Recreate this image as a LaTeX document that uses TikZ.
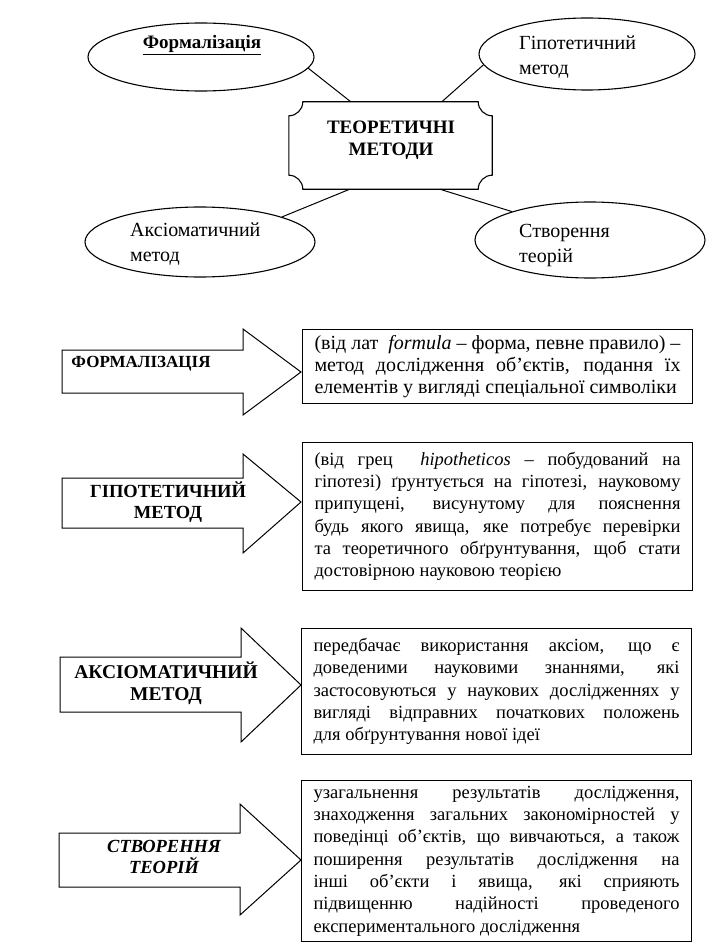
\documentclass[tikz,border=0pt]{standalone}
\usepackage{fontspec}
\setmainfont{Liberation Serif}
\usepackage{tikz}
\usetikzlibrary{positioning,calc,shapes.geometric}
\tolerance=9999
\hbadness=10000
\tikzset{
  oval/.style={ellipse,draw,line width=1.1pt,inner sep=0pt},
  ovtxt/.style={font=\fontsize{20}{25}\selectfont,align=left,inner sep=0pt},
  link/.style={line width=1pt},
  plaque/.style={line width=1.1pt},
  bigarr/.style={line width=1pt,line join=miter},
  arrtxt/.style={align=center,inner sep=0pt},
  defbox/.style={draw,line width=1pt,anchor=north west,text width=366pt,inner xsep=12pt,
    inner ysep=0pt,align=justify,font=\fontsize{18.5}{22.3}\selectfont},
}
\begin{document}
\begin{tikzpicture}[x=1pt,y=-1pt]
  \useasboundingbox (0,0) rectangle (723,952);
  % top: the four methods round the central plaque
  \node[minimum width=203pt,minimum height=87pt,inner sep=0pt] (tm) at (390.5,145.5) {};
  \draw[plaque] ($(tm.north west)+(14,0)$) -- ($(tm.north east)+(-14,0)$)
    .. controls +(0,7.7) and +(-7.7,0) .. ($(tm.north east)+(0,14)$)
    -- ($(tm.south east)+(0,-14)$)
    .. controls +(-7.7,0) and +(0,-7.7) .. ($(tm.south east)+(-14,0)$)
    -- ($(tm.south west)+(14,0)$)
    .. controls +(0,-7.7) and +(7.7,0) .. ($(tm.south west)+(0,-14)$)
    -- ($(tm.north west)+(0,14)$)
    .. controls +(7.7,0) and +(0,7.7) .. ($(tm.north west)+(14,0)$) -- cycle;
  \node[font=\bfseries\fontsize{19}{21.5}\selectfont,align=center] (tmtxt) at (391,140)
    {ТЕОРЕТИЧНІ\\МЕТОДИ};

  \node[oval,minimum width=226pt,minimum height=68pt] (fm) at (201,57) {};
  \node[oval,minimum width=216pt,minimum height=72pt] (gm) at (587,54) {};
  \node[oval,minimum width=230pt,minimum height=70pt] (am) at (200,242) {};
  \node[oval,minimum width=230pt,minimum height=76pt] (sm) at (590,240) {};
  \node[font=\bfseries\fontsize{19}{22}\selectfont] (fmtxt) at (202,45) {\underline{Формалізація}};
  \node[ovtxt,anchor=north west] (gmtxt) at (519,36) {Гіпотетичний\\метод};
  \node[ovtxt,anchor=north west] (amtxt) at (130,223) {Аксіоматичний\\метод};
  \node[ovtxt,anchor=north west] (smtxt) at (519,224) {Створення\\теорій};

  \draw[link] (fm.-6) -- ($(tm.north west)+(62,0)$);
  \draw[link] (gm.186) -- ($(tm.north west)+(153,0)$);
  \draw[link] (am.17) -- ($(tm.south west)+(61,0)$);
  \draw[link] (sm.160) -- ($(tm.south west)+(151,0)$);

  % bottom: block arrows with definitions
  \draw[bigarr] (62,350) -- (243,350) -- (243,329) -- (301,372) -- (243,415) -- (243,393)
    -- (62,393) -- cycle;
  \draw[bigarr] (62,478) -- (243,478) -- (243,454) -- (301,502) -- (243,553) -- (243,528)
    -- (62,528) -- cycle;
  \draw[bigarr] (60,657) -- (241,657) -- (241,628) -- (301,685) -- (241,742) -- (241,712)
    -- (60,712) -- cycle;
  \draw[bigarr] (59,833) -- (240,833) -- (240,804) -- (301,860) -- (240,915) -- (240,887)
    -- (59,887) -- cycle;
  \node[arrtxt,font=\bfseries\fontsize{17}{18}\selectfont] (a1) at (141,364) {ФОРМАЛІЗАЦІЯ};
  \node[arrtxt,font=\bfseries\fontsize{18.5}{21.5}\selectfont] (a2) at (168,502)
    {ГІПОТЕТИЧНИЙ\\МЕТОД};
  \node[arrtxt,font=\bfseries\fontsize{19.5}{22}\selectfont] (a3) at (166,683)
    {АКСІОМАТИЧНИЙ\\МЕТОД};
  \node[arrtxt,font=\bfseries\itshape\fontsize{18.5}{21.5}\selectfont] (a4) at (164,857)
    {СТВОРЕННЯ\\ТЕОРІЙ};

  \node[defbox,minimum height=74pt,font=\fontsize{20}{22.3}\selectfont] (d1) at (302,329)
    {(від лат\ \ \textit{formula} – форма, певне правило) –\linebreak
     метод дослідження об’єктів, подання їх\linebreak
     елементів у вигляді спеціальної символіки};
  \node[defbox,minimum height=148pt] (d2) at (302,442)
    {(від грец\ \ \textit{hipotheticos} – побудований на\linebreak
     гіпотезі) ґрунтується на гіпотезі, науковому\linebreak
     припущені, висунутому для пояснення\linebreak
     будь якого явища, яке потребує перевірки\linebreak
     та теоретичного обґрунтування, щоб стати\linebreak
     достовірною науковою теорією};
  \node[defbox,minimum height=126pt] (d3) at (301,628)
    {передбачає використання аксіом, що є\linebreak
     доведеними науковими знаннями, які\linebreak
     застосовуються у наукових дослідженнях у\linebreak
     вигляді відправних початкових положень\linebreak
     для обґрунтування нової ідеї};
  \node[defbox,minimum height=161pt] (d4) at (301,780)
    {узагальнення результатів дослідження,\linebreak
     знаходження загальних закономірностей у\linebreak
     поведінці об’єктів, що вивчаються, а також\linebreak
     поширення результатів дослідження на\linebreak
     інші об’єкти і явища, які сприяють\linebreak
     підвищенню надійності проведеного\linebreak
     експериментального дослідження};
\end{tikzpicture}
\end{document}
